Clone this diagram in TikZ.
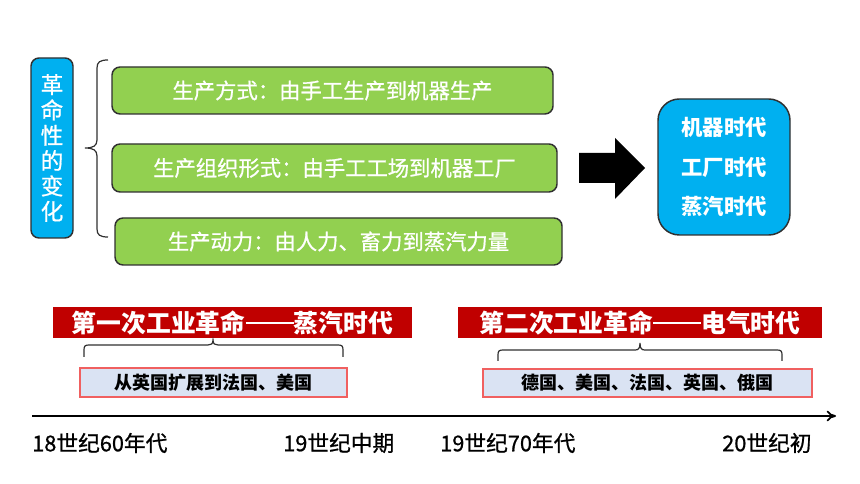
\documentclass[tikz,border=0pt]{standalone}
\usepackage{fontspec}
\setmainfont{Noto Sans CJK SC}
\newfontfamily\medfont[FakeBold=0.8]{Noto Sans CJK SC}
\usetikzlibrary{arrows.meta}
\definecolor{cblue}{HTML}{00B0F0}
\definecolor{cgreen}{HTML}{92D050}
\definecolor{cred}{HTML}{C00000}
\definecolor{clav}{HTML}{DAE3F3}
\definecolor{cpink}{HTML}{F06060}
\definecolor{cedge}{HTML}{303030}
\newcommand{\longdash}{\rule[0.32em]{1.95em}{0.07em}}
\tikzset{
  gbox/.style={draw=cedge, line width=1.1pt, fill=cgreen, rounded corners=6pt, inner sep=0pt,
    text=white, font=\fontsize{16pt}{18pt}\selectfont\medfont},
  bbox/.style={draw=cedge, line width=1.1pt, fill=cblue, inner sep=0pt, text=white},
  banner/.style={fill=cred, inner sep=0pt, text=white, font=\fontsize{18.6pt}{22pt}\selectfont\bfseries},
  lbox/.style={draw=cpink, line width=0.9pt, fill=clav, inner sep=0pt, text=black,
    font=\fontsize{13.5pt}{16pt}\selectfont\bfseries},
  tlabel/.style={anchor=west, inner sep=0pt, font=\fontsize{16.3pt}{19pt}\selectfont\medfont},
  bracepath/.style={draw=cedge, line width=0.9pt}
}
\begin{document}
\begin{tikzpicture}[x=0.75pt,y=-0.75pt]
\useasboundingbox (0,0) rectangle (860,484);
% left vertical box
\node[bbox, rounded corners=6pt, minimum width=42*0.75pt, minimum height=180*0.75pt,
  align=center, font=\fontsize{17pt}{19pt}\selectfont\medfont] (vbox) at (52,148)
  {革\\命\\性\\的\\变\\化};
% brace
\draw[bracepath] (108,60) .. controls (100,60) and (97,62) .. (97,68) -- (97,140)
  .. controls (97,146) and (93,148) .. (85,148)
  .. controls (93,148) and (97,150) .. (97,156) -- (97,229)
  .. controls (97,235) and (100,237) .. (108,237);
% green boxes
\node[gbox, minimum width=441*0.75pt, minimum height=47*0.75pt] (g1) at (332.5,90.5) {生产方式：由手工生产到机器生产};
\node[gbox, minimum width=445*0.75pt, minimum height=48*0.75pt] (g2) at (334.5,168) {生产组织形式：由手工工场到机器工厂};
\node[gbox, minimum width=447*0.75pt, minimum height=47*0.75pt] (g3) at (338.5,241.5) {生产动力：由人力、畜力到蒸汽力量};
% block arrow
\fill[black] (579,153) -- (615,153) -- (615,138) -- (645,168) -- (615,199) -- (615,183) -- (579,183) -- cycle;
% right box
\node[bbox, rounded corners=16pt, minimum width=132*0.75pt, minimum height=136*0.75pt,
  align=center, font=\fontsize{16pt}{29.5pt}\selectfont\bfseries] (rbox) at (724,167)
  {机器时代\\工厂时代\\蒸汽时代};
% banners
\node[banner, minimum width=359*0.75pt, minimum height=31*0.75pt] (b1) at (232.5,322.5) {第一次工业革命\longdash 蒸汽时代};
\node[banner, minimum width=364*0.75pt, minimum height=31*0.75pt] (b2) at (640,322.5) {第二次工业革命\longdash 电气时代};
% bottom braces
\draw[bracepath] (84,357) -- (84,350) .. controls (84,346) and (85,345) .. (89,345) -- (208,345)
  .. controls (211,345) and (213,344) .. (213,340)
  .. controls (213,344) and (215,345) .. (218,345) -- (338,345)
  .. controls (342,345) and (343,346) .. (343,350) -- (343,357);
\draw[bracepath] (498,361) -- (498,355) .. controls (498,351) and (499,350) .. (503,350) -- (635,350)
  .. controls (638,350) and (640,349) .. (640,343)
  .. controls (640,349) and (642,350) .. (645,350) -- (777,350)
  .. controls (781,350) and (782,351) .. (782,355) -- (782,361);
% light boxes
\node[lbox, minimum width=267*0.75pt, minimum height=29*0.75pt] (l1) at (213.5,382.5) {从英国扩展到法国、美国};
\node[lbox, minimum width=329*0.75pt, minimum height=28*0.75pt] (l2) at (647.5,383) {德国、美国、法国、英国、俄国};
% timeline
\coordinate (t0) at (32,416);
\coordinate (t1) at (836,416);
\draw[line width=1.3pt, -{To[length=7pt,width=8pt]}] (t0) -- (t1);
\node[tlabel] (d1) at (32,443) {18世纪60年代};
\node[tlabel] (d2) at (283,443) {19世纪中期};
\node[tlabel] (d3) at (440,443) {19世纪70年代};
\node[tlabel] (d4) at (722,443) {20世纪初};
\end{tikzpicture}
\end{document}
